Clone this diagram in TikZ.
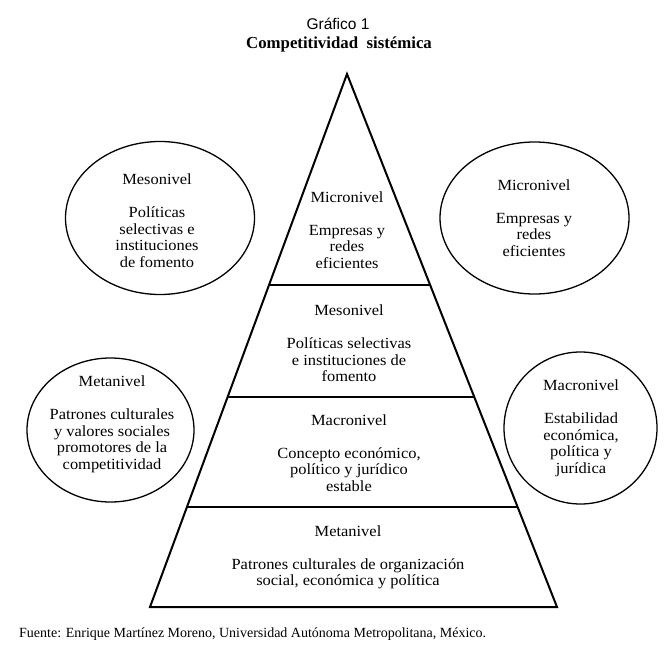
\documentclass[tikz,border=0pt]{standalone}
\usepackage{fontspec}
\setmainfont{Liberation Serif}
\newfontfamily\titlesans{Liberation Sans}
\newfontfamily\bodyserif[FakeStretch=1.06]{Liberation Serif}
\usetikzlibrary{shapes.geometric,calc}
\begin{document}
\begin{tikzpicture}[x=1pt,y=-1pt,
  pyr/.style={line width=2pt, line join=miter},
  oval/.style={draw, ellipse, line width=1.3pt, inner sep=0pt, outer sep=0pt},
  txt/.style={align=center, font=\bodyserif\fontsize{15.5}{16.5}\selectfont, inner sep=0pt},
]
\useasboundingbox (0,0) rectangle (666,666);
% titles
\node[font=\titlesans\fontsize{15.5}{18}\selectfont, inner sep=0pt] (t1) at (338,24) {Gráfico 1};
\node[font=\bfseries\fontsize{16.8}{18}\selectfont, inner sep=0pt] (t2) at (339,44) {Competitividad\ \ sistémica};
% pyramid
\coordinate (A) at (347,74);
\coordinate (BL) at (150,607);
\coordinate (BR) at (557,607);
\draw[pyr] (BL) -- (A) -- (BR) -- cycle;
\coordinate (L1) at ($(A)!0.3959!(BL)$);
\coordinate (R1) at ($(A)!0.3959!(BR)$);
\coordinate (L2) at ($(A)!0.6069!(BL)$);
\coordinate (R2) at ($(A)!0.6069!(BR)$);
\coordinate (L3) at ($(A)!0.8133!(BL)$);
\coordinate (R3) at ($(A)!0.8133!(BR)$);
\draw[pyr] (L1) -- (R1);
\draw[pyr] (L2) -- (R2);
\draw[pyr] (L3) -- (R3);
% pyramid texts
\node[txt] (p1) at (347,230) {Micronivel\\[16.5pt]Empresas y\\redes\\eficientes};
\node[txt] (p2) at (349,343.5) {Mesonivel\\[16.5pt]Políticas selectivas\\e instituciones de\\fomento};
\node[txt] (p3) at (349,453) {Macronivel\\[16.5pt]Concepto económico,\\político y jurídico\\estable};
\node[txt] (p4) at (348,557.5) {Metanivel\\[16.5pt]Patrones\ culturales\ de\ organización\\social, económica y política};
% ellipses
\node[oval, minimum width=189pt, minimum height=153pt] (e1) at (160,218) {};
\node[oval, minimum width=189pt, minimum height=152pt] (e2) at (534.5,218) {};
\node[oval, minimum width=167pt, minimum height=144pt] (e3) at (110.5,430) {};
\node[oval, minimum width=153pt, minimum height=152pt] (e4) at (580.5,428) {};
\node[txt] (e1t) at (157,220.5) {Mesonivel\\[16.5pt]Políticas\\selectivas e\\instituciones\\de fomento};
\node[txt] (e2t) at (534,218) {Micronivel\\[16.5pt]Empresas y\\redes\\eficientes};
\node[txt] (e3t) at (112,424.5) {Metanivel\\[16.5pt]Patrones culturales\\y valores sociales\\promotores de la\\competitividad};
\node[txt] (e4t) at (581,428.5) {Macronivel\\[16.5pt]Estabilidad\\económica,\\política y\\jurídica};
% footer
\node[anchor=west, inner sep=0pt, font=\fontsize{14}{16}\selectfont] (src) at (19,634) {Fuente: Enrique Martínez Moreno, Universidad Autónoma Metropolitana, México.};
\end{tikzpicture}
\end{document}
